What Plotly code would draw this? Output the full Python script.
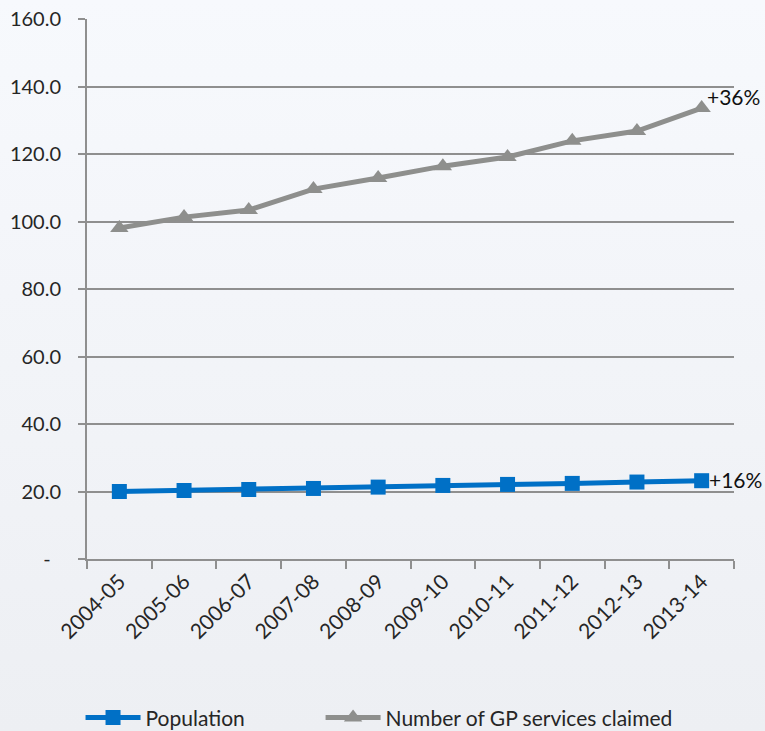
import urllib.parse
import plotly.graph_objects as go

years = ["2004-05", "2005-06", "2006-07", "2007-08", "2008-09",
         "2009-10", "2010-11", "2011-12", "2012-13", "2013-14"]
population = [20.0, 20.3, 20.6, 20.9, 21.3, 21.8, 22.1, 22.4, 22.8, 23.2]
gp_services = [98.1, 101.3, 103.4, 109.6, 112.9, 116.4, 119.1, 123.9, 126.8, 133.6]

y_ticks = [0, 20, 40, 60, 80, 100, 120, 140, 160]
y_tick_text = ["-\u00a0\u00a0", "20.0", "40.0", "60.0", "80.0",
               "100.0", "120.0", "140.0", "160.0"]

growth_labels = {"gp": "+36%", "pop": "+16%"}

FONT = "Lato, 'Open Sans', sans-serif"
TEXT = "#262626"
GRID = "#8f8f8f"
BLUE = "#0070c6"
GREY = "#8e8f8d"

W, H = 765, 731
ML, MR, MT, MB = 87, 31, 19, 172
PW, PH = W - ML - MR, H - MT - MB

# soft vertical background wash
bg_svg = (
    "<svg xmlns='http://www.w3.org/2000/svg' width='100' height='100' preserveAspectRatio='none'>"
    "<defs><linearGradient id='g' x1='0' y1='0' x2='0' y2='1'>"
    "<stop offset='0' stop-color='#f7f9fd'/><stop offset='1' stop-color='#edeff3'/>"
    "</linearGradient></defs><rect width='100' height='100' fill='url(#g)'/></svg>"
)
bg_src = "data:image/svg+xml;charset=utf-8," + urllib.parse.quote(bg_svg)

fig = go.Figure()
fig.add_trace(go.Scatter(
    x=years, y=population, name="Population", mode="lines+markers",
    line=dict(color=BLUE, width=5),
    marker=dict(symbol="square", size=15, color=BLUE),
    legend="legend",
))
fig.add_trace(go.Scatter(
    x=years, y=gp_services, name="Number of GP services claimed", mode="lines+markers",
    line=dict(color=GREY, width=5),
    marker=dict(symbol="triangle-up", size=16, color=GREY),
    legend="legend2",
))

fig.add_annotation(x=years[-1], y=gp_services[-1], text=growth_labels["gp"],
                   showarrow=False, xanchor="left", yanchor="middle",
                   xshift=3, yshift=12, font=dict(size=21, color="#111", family=FONT))
fig.add_annotation(x=years[-1], y=population[-1], text=growth_labels["pop"],
                   showarrow=False, xanchor="left", yanchor="middle",
                   xshift=5, yshift=1, font=dict(size=21, color="#111", family=FONT))

fig.add_layout_image(
    source=bg_src, xref="paper", yref="paper",
    x=-ML / PW, y=1 + MT / PH, sizex=W / PW, sizey=H / PH,
    xanchor="left", yanchor="top", sizing="stretch", layer="below",
)

legend_style = dict(orientation="h", xanchor="left", yref="container", y=0.018,
                    yanchor="middle", font=dict(size=21, color=TEXT),
                    bgcolor="rgba(0,0,0,0)", itemwidth=55)

fig.update_layout(
    width=W, height=H,
    margin=dict(l=ML, r=MR, t=MT, b=MB, autoexpand=False),
    paper_bgcolor="#f3f5f9",
    plot_bgcolor="rgba(0,0,0,0)",
    font=dict(family=FONT, size=20, color=TEXT),
    showlegend=True,
    legend=dict(x=-0.010, **legend_style),
    legend2=dict(x=0.361, **legend_style),
)

fig.update_xaxes(
    type="category", tickson="boundaries", range=[-0.5, len(years) - 0.5],
    automargin=False,
    showline=True, linecolor=GRID, linewidth=2,
    ticks="outside", ticklen=8, tickcolor=GRID, tickwidth=2,
    tickangle=-45, showgrid=False,
    tickfont=dict(size=21, color=TEXT, family=FONT),
)
fig.update_yaxes(
    range=[0, 160], tickvals=y_ticks, ticktext=y_tick_text,
    automargin=False,
    showline=True, linecolor=GRID, linewidth=2,
    ticks="outside", ticklen=7, tickcolor=GRID, tickwidth=2,
    ticklabelstandoff=13,
    showgrid=True, gridcolor=GRID, gridwidth=2, zeroline=False,
    tickfont=dict(size=20, color=TEXT, family=FONT),
)

fig.write_html("out.html")
